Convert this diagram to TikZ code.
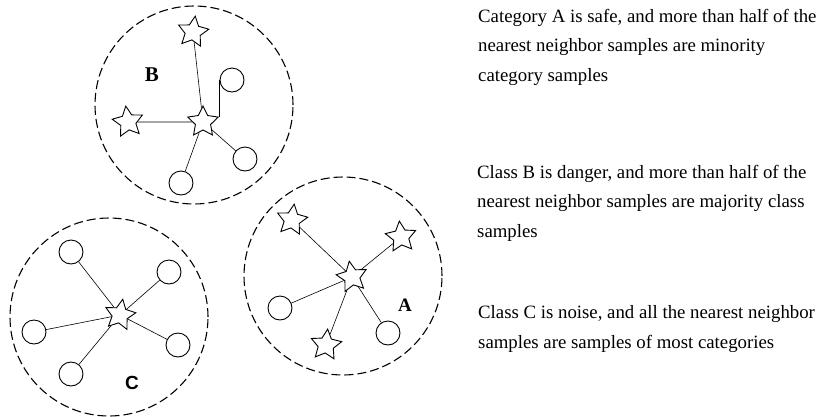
\documentclass[tikz,border=0pt]{standalone}
\usepackage{fontspec}
\setmainfont{Liberation Serif}
\newfontfamily\labelsans{Liberation Sans}
\usetikzlibrary{positioning,shapes.geometric}

\begin{document}
\begin{tikzpicture}[x=1pt, y=-1pt,
  region/.style={draw, circle, dash pattern=on 9pt off 4pt, line width=1.1pt, minimum size=198pt, inner sep=0pt},
  sample/.style={draw, circle, line width=0.9pt, minimum size=24pt, inner sep=0pt},
  seed/.style={draw, star, star points=5, star point ratio=2.0, line width=0.9pt, minimum size=32pt, inner sep=0pt, fill=white},
  link/.style={line width=0.6pt},
  note/.style={anchor=base west, align=left, inner sep=0pt, font=\fontsize{18.8}{29.5}\selectfont},
  tag/.style={font=\fontsize{21}{21}\selectfont\bfseries}]
  \useasboundingbox (0,0) rectangle (822,416);

  % Regions
  \node[region] (regB) at (194,105) {};
  \node[region] (regC) at (109,317) {};
  \node[region] (regA) at (343,276) {};

  % Region B
  \node[seed] (sB) at (203,122) {};
  \node[seed, rotate=-8] (sB1) at (193,32) {};
  \node[seed, rotate=8] (sB2) at (128,122) {};
  \node[sample] (cB1) at (232,80) {};
  \node[sample] (cB2) at (245,159) {};
  \node[sample] (cB3) at (181,183) {};
  \node[tag] (tB) at (152,75) {B};
  \draw[link] (sB1) -- (sB);
  \draw[link] (sB2) -- (sB);
  \draw[link] (cB1.west) -- (cB1.west |- sB.18);
  \draw[link] (sB) -- (cB2);
  \draw[link] (sB) -- (cB3);

  % Region C
  \node[seed, rotate=-10] (sC) at (120,315) {};
  \node[sample] (cC1) at (71,252) {};
  \node[sample] (cC2) at (169,272) {};
  \node[sample] (cC3) at (34,332) {};
  \node[sample] (cC4) at (178,345) {};
  \node[sample] (cC5) at (71,374) {};
  \node[tag, font=\fontsize{19}{19}\selectfont\labelsans\bfseries] (tC) at (132,383) {C};
  \foreach \c in {cC1,cC2,cC3,cC4,cC5}
    \draw[link] (sC) -- (\c);

  % Region A
  \node[seed, rotate=10] (sA) at (352,277) {};
  \node[seed, rotate=-8] (sA1) at (292,220) {};
  \node[seed, rotate=6] (sA2) at (401,237) {};
  \node[sample] (cA1) at (280,308) {};
  \node[seed, rotate=-6] (sA3) at (326,345) {};
  \node[sample] (cA2) at (388,333) {};
  \node[tag, font=\fontsize{19}{19}\selectfont\bfseries] (tA) at (405,305) {A};
  \foreach \s in {sA1,sA2,cA1,sA3,cA2}
    \draw[link] (sA) -- (\s);

  % Notes (placed at the baseline of the last line)
  \node[note] (noteA) at (478,81) {Category A is safe, and more than half of the\\nearest neighbor samples are minority\\category samples};
  \node[note] (noteB) at (477,237) {Class B is danger, and more than half of the\\nearest neighbor samples are majority class\\samples};
  \node[note] (noteC) at (478,348) {Class C is noise, and all the nearest neighbor\\samples are samples of most categories};
\end{tikzpicture}
\end{document}
